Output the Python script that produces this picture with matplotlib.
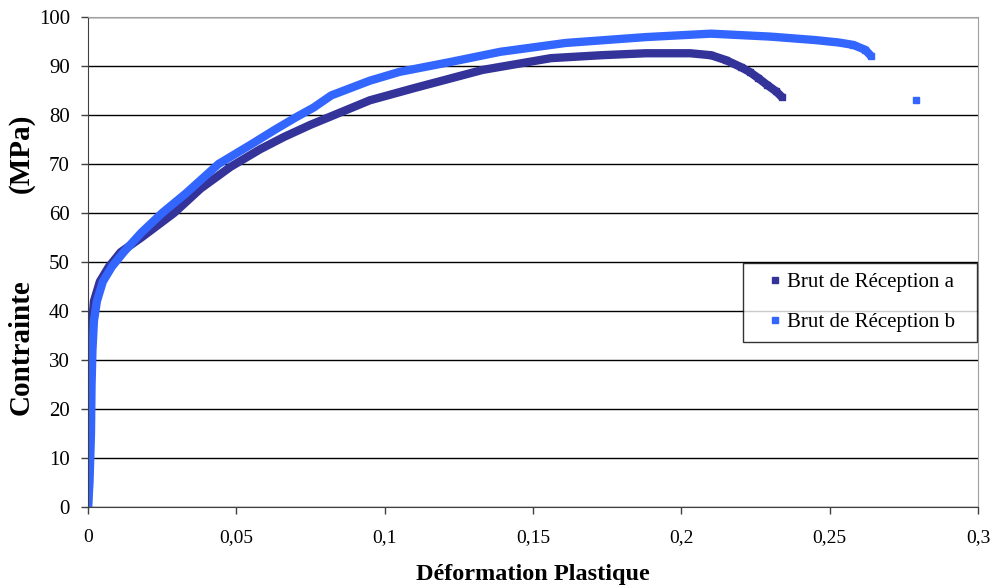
import numpy as np
import matplotlib.pyplot as plt

# Brut de Réception a (déformation plastique, contrainte MPa)
eps_a = [0, 0.0003, 0.0005, 0.001, 0.002, 0.004, 0.007, 0.011, 0.018, 0.029, 0.038,
         0.048, 0.058, 0.066, 0.075, 0.083, 0.095, 0.110, 0.133, 0.156, 0.173,
         0.188, 0.203, 0.210, 0.215, 0.220, 0.223, 0.226, 0.229, 0.232, 0.234]
sig_a = [0, 10, 25, 35, 42, 46, 49, 52, 55, 60, 65,
         69.4, 73, 75.5, 78, 80, 83, 85.5, 89.2, 91.6, 92.2,
         92.6, 92.6, 92.2, 91.2, 89.8, 88.8, 87.5, 86.1, 84.8, 83.6]

# Brut de Réception b
eps_b = [0, 0.0005, 0.001, 0.0012, 0.0015, 0.002, 0.003, 0.005, 0.008, 0.012, 0.018,
         0.025, 0.033, 0.044, 0.055, 0.063, 0.070, 0.076, 0.082, 0.095, 0.105, 0.122, 0.139,
         0.161, 0.188, 0.210, 0.230, 0.245, 0.253, 0.258, 0.262, 0.264]
sig_b = [0, 5, 15, 25, 32, 38, 42, 46, 49, 52, 56,
         60, 64, 70, 74, 77, 79.5, 81.5, 84, 87, 88.8, 90.8, 92.9,
         94.7, 95.9, 96.6, 96.0, 95.3, 94.8, 94.3, 93.3, 92.0]
eps_b_iso = [0.279]
sig_b_iso = [83.1]

c_a = '#333399'
c_b = '#3366FF'

plt.rcParams['font.family'] = ['Liberation Serif', 'DejaVu Serif']

fig = plt.figure(figsize=(9.9, 5.86), dpi=100)
ax = fig.add_axes([88/990, 79/586, 890/990, 490/586])

ax.plot(eps_a, sig_a, '-', color=c_a, lw=6, solid_capstyle='butt')
ax.plot(eps_a[-8:], sig_a[-8:], 's', color=c_a, ms=5)
ax.plot(eps_b, sig_b, '-', color=c_b, lw=6, solid_capstyle='butt')
ax.plot(eps_b[-3:], sig_b[-3:], 's', color=c_b, ms=5)
ax.plot(eps_b_iso, sig_b_iso, 's', color=c_b, ms=5)

ax.set_xlim(0, 0.3)
ax.set_ylim(0, 100)
ax.set_xticks(np.arange(0, 0.31, 0.05))
ax.set_xticklabels(['0', '0,05', '0,1', '0,15', '0,2', '0,25', '0,3'])
ax.set_yticks(np.arange(0, 101, 10))
ax.yaxis.grid(True, color='black', lw=1)
ax.set_axisbelow(True)
ax.tick_params(direction='out', length=5, width=1, color='#404040')
ax.tick_params(axis='x', labelsize=14, pad=11)
ax.tick_params(axis='y', labelsize=15, pad=8)
for s in ['top', 'right']:
    ax.spines[s].set_color('#A0A0A0')
for s in ['left', 'bottom']:
    ax.spines[s].set_color('#404040')

ax.set_xlabel('Déformation Plastique', fontsize=17.5, fontweight='bold', labelpad=13)
fig.text(21/990, 1 - 347/586, 'Contrainte', rotation=90, fontsize=21, fontweight='bold',
         ha='center', va='center')
fig.text(21/990, 1 - 153/586, '(MPa)', rotation=90, fontsize=21, fontweight='bold',
         ha='center', va='center')

h_a, = ax.plot([], [], 's', color=c_a, ms=4)
h_b, = ax.plot([], [], 's', color=c_b, ms=4)
leg = ax.legend([h_a, h_b], ['Brut de Réception a', 'Brut de Réception b'],
                loc='upper left', bbox_to_anchor=((743-88)/890, (507-344)/490, 234/890, 81/490),
                mode='expand', borderaxespad=0,
                fontsize=15, frameon=True, fancybox=False, handlelength=2.15,
                handletextpad=-0.5, borderpad=0.46, labelspacing=0.97)
leg.get_frame().set_edgecolor('black')
leg.get_frame().set_linewidth(1)

fig.savefig('out.png', dpi=100)
